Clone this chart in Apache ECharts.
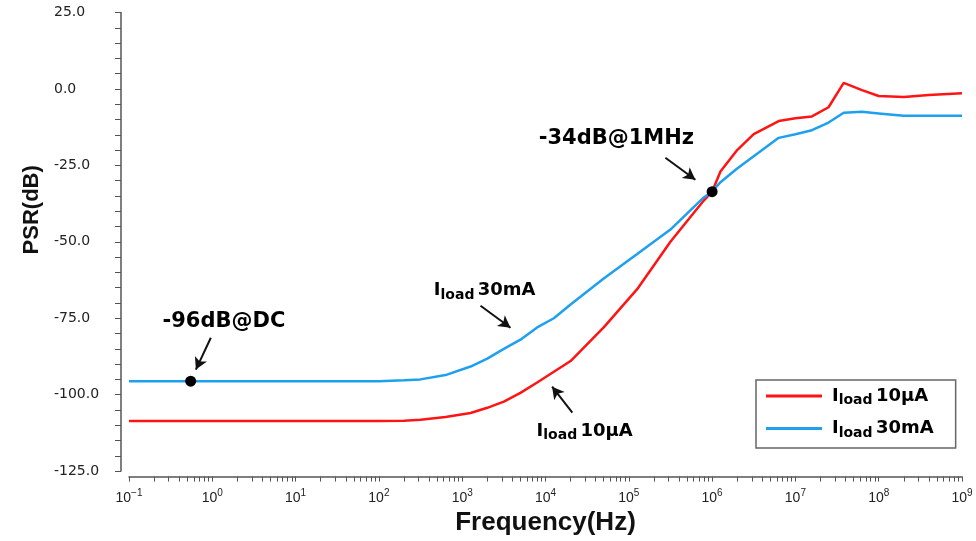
<!DOCTYPE html>
<html>
<head>
<meta charset="utf-8">
<title>PSR vs frequency</title>
<script src="https://cdn.jsdelivr.net/npm/echarts@6/dist/echarts.min.js"></script>
<style>
    html, body { margin: 0; padding: 0; background: #fff; }
    #main { width: 976px; height: 541px; }
</style>
</head>
<body>
<div id="main"></div>
<script>
// frequency points (Hz)
var freqHz = [0.1, 1, 10, 100, 200, 316, 630, 1260, 2000, 3160, 5000, 7940, 12600, 20000, 50000,
    126000, 316000, 794000, 1e6, 1.26e6, 2e6, 3.16e6, 6.3e6, 1e7, 1.58e7, 2.5e7, 3.8e7, 6.3e7,
    1e8, 2e8, 4e8, 1e9];
// PSR (dB) for Iload 10uA (red)
var psr10uA = [-108.6, -108.6, -108.6, -108.6, -108.5, -108.2, -107.3, -106, -104.3, -102.3, -99.4,
    -96, -92.5, -89, -78, -65.5, -50, -36.5, -33.6, -27, -20, -14.8, -10.5, -9.6, -9, -6, 2, -0.4,
    -2.3, -2.6, -2, -1.4];
// PSR (dB) for Iload 30mA (blue)
var psr30mA = [-95.6, -95.6, -95.6, -95.6, -95.3, -95, -93.6, -90.8, -88.2, -85, -82, -78, -75,
    -70.5, -62, -54, -46, -35.5, -33.6, -30.5, -26, -22, -16, -14.8, -13.5, -11, -7.8, -7.5, -8,
    -8.8, -8.8, -8.8];
var seriesNames = ['Iload 10µA', 'Iload 30mA'];
var yTicks = [-125, -100, -75, -50, -25, 0, 25];

// marked points
var dotFreq = [0.55, 1e6];
var dotDb = [-95.6, -33.6];
// annotation texts
var noteLabel = ['-96dB@DC', '-34dB@1MHz', 'Iload 30mA', 'Iload 10µA'];
var noteFreq = [1.38, 7.1e4, 1860, 2.95e4];
var noteDb = [-76.1, -16.3, -66, -112];
// arrows [freq, dB] from -> to
var arrowFrom = [[0.96, -81.4], [2.75e5, -22.5], [1660, -70.9], [2.1e4, -105.9]];
var arrowTo = [[0.635, -91.8], [6.3e5, -29.7], [3800, -78.1], [1.2e4, -97.4]];

var colors = ['#ff1414', '#1ea0ee'];

function lg(f) { return Math.log10(f); }

function pairs(fs, vs) {
    var out = [];
    for (var i = 0; i < fs.length; i++) {
        out.push([lg(fs[i]), vs[i]]);
    }
    return out;
}

// tick positions: decades plus 2..9 x 10^n
var tickPos = [];
for (var d = -1; d < 9; d++) {
    tickPos.push(d);
    for (var k = 2; k <= 9; k++) tickPos.push(d + Math.log10(k));
}
tickPos.push(9);

function richName(s) {
    if (s.indexOf('Iload ') === 0) {
        return '{i|I}{s|load} {n|' + s.substring(6) + '}';
    }
    return '{t|' + s + '}';
}

var richStyle = {
    i: { fontFamily: 'DejaVu Sans', fontWeight: 'bold', fontSize: 18, color: '#000' },
    s: { fontFamily: 'DejaVu Sans', fontWeight: 'bold', fontSize: 14, color: '#000', padding: [9, 0, 0, 0] },
    n: { fontFamily: 'DejaVu Sans', fontWeight: 'bold', fontSize: 18, color: '#000' },
    t: { fontFamily: 'DejaVu Sans', fontWeight: 'bold', fontSize: 21, color: '#000' }
};

var notes = [];
for (var i = 0; i < noteLabel.length; i++) {
    notes.push({
        value: [lg(noteFreq[i]), noteDb[i]],
        label: { formatter: richName(noteLabel[i]) }
    });
}

var arrows = [];
for (var j = 0; j < arrowFrom.length; j++) {
    arrows.push([
        { coord: [lg(arrowFrom[j][0]), arrowFrom[j][1]] },
        { coord: [lg(arrowTo[j][0]), arrowTo[j][1]] }
    ]);
}

var myChart = echarts.init(document.getElementById('main'));

var option = {
    animation: false,
    color: colors,
    grid: { left: 129, right: 14, top: 12.5, bottom: 69.5 },
    legend: {
        data: seriesNames,
        orient: 'vertical',
        left: 756,
        top: 380,
        padding: [7, 22, 8, 10],
        itemGap: 12,
        itemWidth: 56,
        itemHeight: 3,
        icon: 'rect',
        borderColor: '#666',
        borderWidth: 1.5,
        borderRadius: 0,
        formatter: function (name) { return richName(name); },
        textStyle: { padding: [0, 0, 0, 5], rich: richStyle }
    },
    xAxis: {
        type: 'value',
        min: -1,
        max: 9,
        interval: 1,
        offset: 5.5,
        name: 'Frequency(Hz)',
        nameLocation: 'middle',
        nameGap: 30,
        nameTextStyle: { fontFamily: 'Liberation Sans', fontWeight: 'bold', fontSize: 26, color: '#111' },
        axisLine: { show: true, onZero: false, lineStyle: { color: '#555', width: 1.5 } },
        axisTick: { show: true, length: 5, customValues: tickPos, lineStyle: { color: '#555' } },
        splitLine: { show: false },
        axisLabel: {
            margin: 12,
            formatter: function (v) {
                var e = Math.round(v);
                return '{b|10}{e|' + (e < 0 ? '\u2212' + (-e) : e) + '}';
            },
            rich: {
                b: { fontFamily: 'Liberation Sans', fontSize: 14, color: '#222' },
                e: { fontFamily: 'Liberation Sans', fontSize: 10, color: '#222', padding: [0, 0, 9, 0] }
            }
        }
    },
    yAxis: {
        type: 'value',
        min: yTicks[0],
        max: yTicks[yTicks.length - 1],
        interval: 25,
        offset: 8,
        name: 'PSR(dB)',
        nameLocation: 'middle',
        nameGap: 78,
        nameTextStyle: {
            fontFamily: 'Liberation Sans', fontWeight: 'bold', fontSize: 22, color: '#111',
            padding: [0, 0, 0, 64]
        },
        axisLine: { show: true, onZero: false, lineStyle: { color: '#555', width: 1.5 } },
        axisTick: { show: true, length: 6, lineStyle: { color: '#555' } },
        minorTick: { show: true, splitNumber: 5, length: 6, lineStyle: { color: '#555' } },
        splitLine: { show: false },
        axisLabel: {
            align: 'left',
            margin: 67,
            fontFamily: 'DejaVu Sans',
            fontSize: 14,
            color: '#222',
            formatter: function (v) { return v.toFixed(1); }
        }
    },
    series: [
        {
            name: seriesNames[0],
            type: 'line',
            symbol: 'none',
            smooth: false,
            lineStyle: { width: 2.5, color: colors[0] },
            data: pairs(freqHz, psr10uA),
            z: 3
        },
        {
            name: seriesNames[1],
            type: 'line',
            symbol: 'none',
            smooth: false,
            lineStyle: { width: 2.5, color: colors[1] },
            data: pairs(freqHz, psr30mA),
            z: 4
        },
        {
            name: 'points',
            type: 'scatter',
            symbolSize: 11,
            itemStyle: { color: '#000', opacity: 1 },
            data: pairs(dotFreq, dotDb),
            silent: true,
            z: 10,
            markLine: {
                silent: true,
                symbol: ['none', 'arrow'],
                symbolSize: [10, 12],
                label: { show: false },
                lineStyle: { color: '#111', width: 2, type: 'solid' },
                data: arrows
            }
        },
        {
            name: 'notes',
            type: 'scatter',
            symbolSize: 0,
            silent: true,
            itemStyle: { opacity: 1 },
            label: {
                show: true, position: 'inside', color: '#000',
                textBorderWidth: 0, rich: richStyle
            },
            emphasis: { disabled: true },
            data: notes,
            z: 11
        }
    ]
};
myChart.setOption(option);
</script>
</body>
</html>
